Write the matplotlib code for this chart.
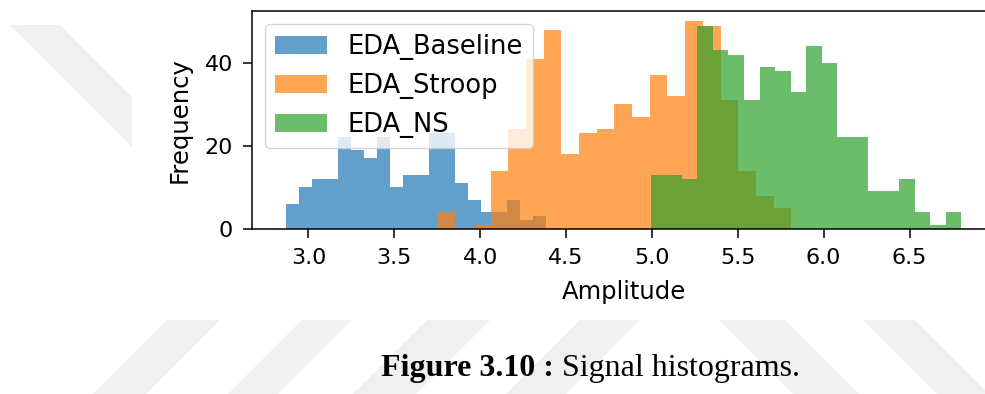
import numpy as np
import matplotlib
matplotlib.use("Agg")
import matplotlib.pyplot as plt
from matplotlib.patches import Polygon

# Histogram counts (20 bins per signal) and the value range each histogram spans
labels = ["EDA_Baseline", "EDA_Stroop", "EDA_NS"]
baseline_counts = [6, 10, 12, 12, 22, 19, 17, 22, 10, 13, 13, 23, 23, 11, 7, 4, 4, 7, 2, 3]
stroop_counts = [4, 0, 1, 14, 24, 41, 48, 18, 23, 24, 30, 27, 37, 32, 50, 49, 31, 14, 8, 5]
ns_counts = [13, 13, 12, 49, 43, 42, 31, 39, 38, 33, 44, 40, 22, 22, 9, 9, 12, 4, 1, 4]
baseline_range = (2.868, 4.386)
stroop_range = (3.751, 5.812)
ns_range = (4.994, 6.801)
n_bins = 20

x_ticks = [3.0, 3.5, 4.0, 4.5, 5.0, 5.5, 6.0, 6.5]
y_ticks = [0, 20, 40]

W, H = 985, 394
fig = plt.figure(figsize=(W / 100, H / 100), dpi=100)
fig.patch.set_facecolor("white")


def px(x, y):
    return (x / W, 1 - y / H)


# light page watermark stripes
stripe_color = "#f0f0f0"
stripes = [
    [(10, 25), (60, 25), (132, 97), (132, 147)],
]
for x0, x1 in [(167, 220), (302, 352), (427, 490), (580, 640)]:
    stripes.append([(x0, 320), (x1, 320), (x1 - 74, 394), (x0 - 74, 394)])
for x0, x1 in [(719, 785), (863, 915)]:
    stripes.append([(x0, 320), (x1, 320), (x1 + 74, 394), (x0 + 74, 394)])
for pts in stripes:
    fig.patches.append(Polygon([px(*p) for p in pts], closed=True,
                               transform=fig.transFigure, facecolor=stripe_color,
                               edgecolor="none", zorder=0))

left, right, top, bottom = 252, 995, 11, 228.7
ax = fig.add_axes([left / W, 1 - bottom / H, (right - left) / W, (bottom - top) / H])

for counts, rng, lab in [(baseline_counts, baseline_range, labels[0]),
                         (stroop_counts, stroop_range, labels[1]),
                         (ns_counts, ns_range, labels[2])]:
    edges = np.linspace(rng[0], rng[1], n_bins + 1)
    ax.hist(edges[:-1], bins=edges, weights=counts, alpha=0.7, label=lab)

ax.set_xticks(x_ticks)
ax.set_yticks(y_ticks)
ax.tick_params(labelsize=16, length=6.8, width=1.1, pad=7)
for s in ax.spines.values():
    s.set_linewidth(1.1)
ax.set_xlabel("Amplitude", fontsize=17.5, labelpad=9)
ax.set_ylabel("Frequency", fontsize=17.5, labelpad=9)
ax.legend(loc="upper left", fontsize=18.5)

# caption
t1 = fig.text(381 / W, 1 - 376 / H, "Figure 3.10 :", fontsize=23,
              family="Liberation Serif", weight="bold", ha="left", va="baseline")
fig.canvas.draw()
bb = t1.get_window_extent()
fig.text(bb.x1 / W, 1 - 376 / H, " Signal histograms.", fontsize=23,
         family="Liberation Serif", ha="left", va="baseline")

fig.savefig("out.png", dpi=100)
